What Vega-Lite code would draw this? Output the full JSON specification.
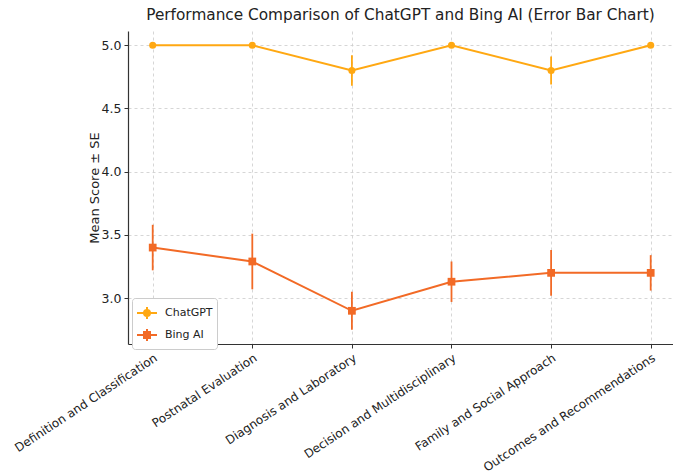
{
  "$schema": "https://vega.github.io/schema/vega-lite/v6.json",
  "autosize": {"type": "none"},
  "width": 545,
  "height": 313,
  "padding": {"left": 128, "top": 31, "right": 0, "bottom": 130},
  "background": "white",
  "config": {
    "font": "DejaVu Sans",
    "view": {"stroke": null},
    "axis": {"labelFont": "DejaVu Sans", "titleFont": "DejaVu Sans"}
  },
  "title": {
    "text": "Performance Comparison of ChatGPT and Bing AI (Error Bar Chart)",
    "font": "DejaVu Sans",
    "fontSize": 15.3,
    "fontWeight": "normal",
    "color": "#222",
    "anchor": "middle",
    "offset": 8
  },
  "data": {
    "values": [
      {"category": "Definition and Classification", "model": "ChatGPT", "mean": 5.0, "se": 0.0},
      {"category": "Postnatal Evaluation", "model": "ChatGPT", "mean": 5.0, "se": 0.0},
      {"category": "Diagnosis and Laboratory", "model": "ChatGPT", "mean": 4.8, "se": 0.12},
      {"category": "Decision and Multidisciplinary", "model": "ChatGPT", "mean": 5.0, "se": 0.0},
      {"category": "Family and Social Approach", "model": "ChatGPT", "mean": 4.8, "se": 0.11},
      {"category": "Outcomes and Recommendations", "model": "ChatGPT", "mean": 5.0, "se": 0.0},
      {"category": "Definition and Classification", "model": "Bing AI", "mean": 3.4, "se": 0.18},
      {"category": "Postnatal Evaluation", "model": "Bing AI", "mean": 3.29, "se": 0.22},
      {"category": "Diagnosis and Laboratory", "model": "Bing AI", "mean": 2.9, "se": 0.15},
      {"category": "Decision and Multidisciplinary", "model": "Bing AI", "mean": 3.13, "se": 0.16},
      {"category": "Family and Social Approach", "model": "Bing AI", "mean": 3.2, "se": 0.18},
      {"category": "Outcomes and Recommendations", "model": "Bing AI", "mean": 3.2, "se": 0.14}
    ]
  },
  "encoding": {
    "x": {
      "field": "category",
      "type": "nominal",
      "sort": null,
      "scale": {"type": "point", "range": [0, 547.4], "padding": 0.248},
      "axis": {
        "title": null,
        "labelAngle": -33.5,
        "labelAlign": "right",
        "labelBaseline": "top",
        "labelFontSize": 12,
        "labelColor": "#222",
        "labelPadding": 4,
        "labelLimit": 0,
        "tickSize": 4,
        "tickColor": "#333",
        "domainColor": "#333",
        "domainWidth": 1.2,
        "grid": true,
        "gridColor": "#cccccc",
        "gridDash": [3, 3],
        "gridWidth": 0.8
      }
    },
    "y": {
      "field": "mean",
      "type": "quantitative",
      "scale": {"domain": [2.6375, 5.1125], "nice": false, "zero": false},
      "axis": {
        "title": "Mean Score ± SE",
        "titleFontSize": 13,
        "titleFontWeight": "normal",
        "titleColor": "#222",
        "titlePadding": 0,
        "values": [3.0, 3.5, 4.0, 4.5, 5.0],
        "format": ".1f",
        "labelFontSize": 12.5,
        "labelColor": "#222",
        "labelPadding": 3,
        "tickSize": 4,
        "tickColor": "#333",
        "domainColor": "#333",
        "domainWidth": 1.2,
        "grid": true,
        "gridColor": "#cccccc",
        "gridDash": [3, 3],
        "gridWidth": 0.8
      }
    },
    "color": {
      "field": "model",
      "type": "nominal",
      "scale": {"domain": ["ChatGPT", "Bing AI"], "range": ["#ffa812", "#f26a26"]},
      "legend": {
        "title": null,
        "orient": "none",
        "legendX": 4,
        "legendY": 267,
        "direction": "vertical",
        "fillColor": "white",
        "strokeColor": "#cccccc",
        "cornerRadius": 3,
        "padding": 4,
        "labelFontSize": 11,
        "labelColor": "#222",
        "symbolSize": 400,
        "symbolStrokeWidth": 2,
        "rowPadding": 1,
        "labelOffset": 7,
        "encode": {
          "symbols": {
            "update": {
              "shape": {"signal": "datum.value == 'ChatGPT' ? 'M-1,0L1,0M0,-0.6L0,0.6M-0.3,0A0.3,0.3,0,1,1,0.3,0A0.3,0.3,0,1,1,-0.3,0Z' : 'M-1,0L1,0M0,-0.6L0,0.6M-0.3,-0.3L0.3,-0.3L0.3,0.3L-0.3,0.3Z'"},
              "fill": {"scale": "color", "field": "value"},
              "stroke": {"scale": "color", "field": "value"},
              "opacity": {"value": 1}
            }
          }
        }
      }
    }
  },
  "layer": [
    {
      "mark": {"type": "errorbar", "thickness": 1.8},
      "encoding": {
        "yError": {"field": "se"}
      }
    },
    {
      "mark": {"type": "line", "strokeWidth": 2}
    },
    {
      "transform": [{"filter": "datum.model == 'ChatGPT'"}],
      "mark": {"type": "point", "shape": "circle", "filled": true, "opacity": 1, "size": 50}
    },
    {
      "transform": [{"filter": "datum.model == 'Bing AI'"}],
      "mark": {"type": "point", "shape": "square", "filled": true, "opacity": 1, "size": 60}
    }
  ]
}
